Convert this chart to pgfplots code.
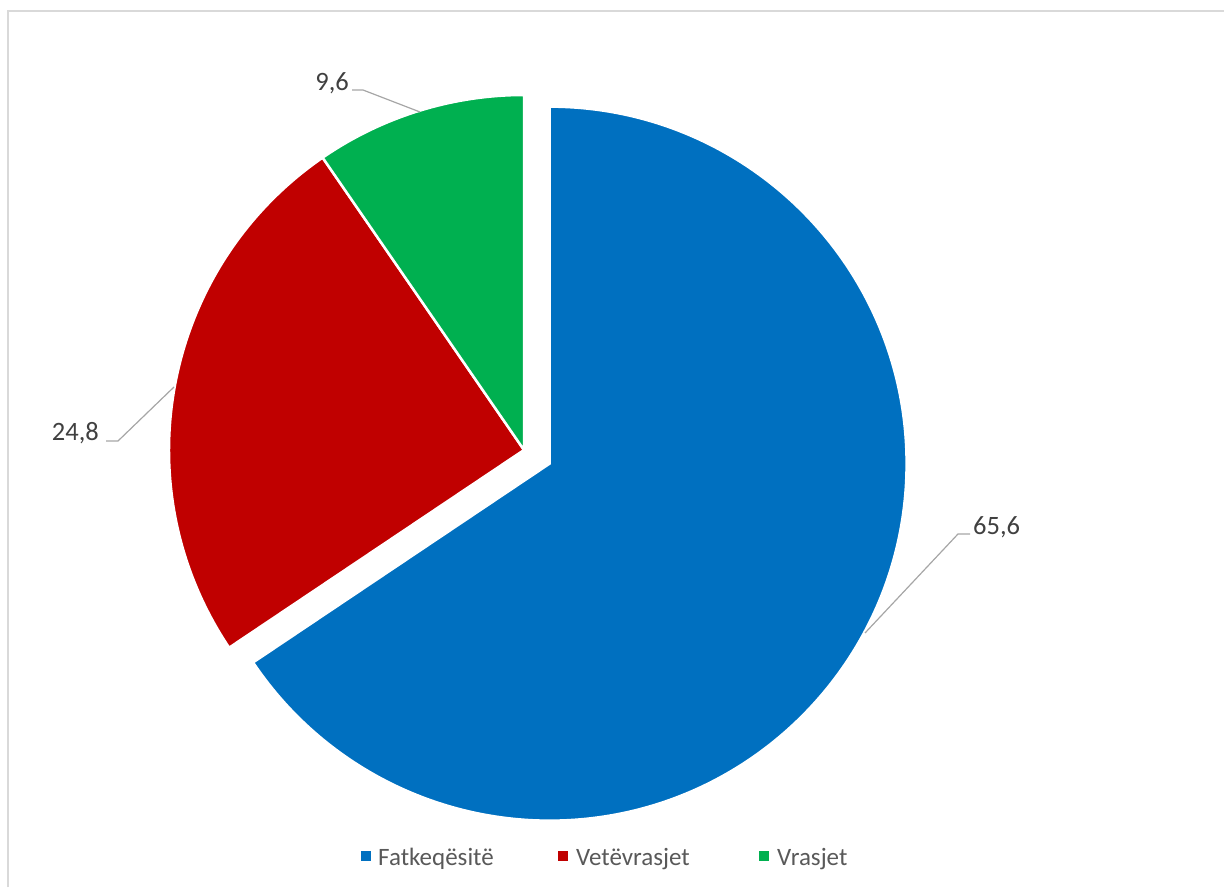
\documentclass[border=0pt]{standalone}
\usepackage{pgfplots}
\pgfplotsset{compat=1.18}
\usepackage{fontspec}
\setmainfont{Carlito}
\usetikzlibrary{calc}

\definecolor{cblue}{HTML}{0070C0}
\definecolor{cred}{HTML}{C00000}
\definecolor{cgreen}{HTML}{00B050}
\definecolor{txt}{HTML}{404040}
\definecolor{legtxt}{HTML}{595959}
\definecolor{lead}{HTML}{A6A6A6}
\definecolor{frame}{HTML}{D9D9D9}

% shares in percent
\def\va{65.6} % Fatkeqesite
\def\vb{24.8} % Vetevrasjet
\def\vc{9.6}  % Vrasjet

\begin{document}
\begin{tikzpicture}
\begin{axis}[
  scale only axis, width=1224pt, height=887pt,
  xmin=0, xmax=1224, ymin=0, ymax=887,
  hide axis, clip=false]
\coordinate (BL) at (axis cs:0,0);
\coordinate (TR) at (axis cs:1224,887);

% chart frame (only left and top edges are visible)
\draw[frame, line width=1.5pt] (axis cs:8,0) -- (axis cs:8,876) -- (axis cs:1224,876);

% slices: start at 12 o'clock, clockwise
\fill[cblue, draw=white, line width=2.5pt]
  ($(axis cs:524,437)+({90-1.8*\va}:29pt)$) -- +(90:357pt)
  arc[start angle=90, end angle={90-3.6*\va}, radius=357pt] -- cycle;
\fill[cred, draw=white, line width=2.5pt]
  (axis cs:524,437) -- +({90-3.6*\va}:355pt)
  arc[start angle={90-3.6*\va}, end angle={90-3.6*(\va+\vb)}, radius=355pt] -- cycle;
\fill[cgreen, draw=white, line width=2.5pt]
  (axis cs:524,437) -- +({90-3.6*(\va+\vb)}:355pt)
  arc[start angle={90-3.6*(\va+\vb)}, end angle=-270, radius=355pt] -- cycle;

% leader lines and data labels
\draw[lead, line width=1.2pt] (axis cs:865,254) -- (axis cs:958,353) -- (axis cs:970,353);
\draw[lead, line width=1.2pt] (axis cs:174,500) -- (axis cs:118,446) -- (axis cs:106,446);
\draw[lead, line width=1.2pt] (axis cs:420,775) -- (axis cs:363,797) -- (axis cs:352,797);
\node[anchor=west, inner sep=0pt, text=txt, font=\fontsize{26.5}{31}\selectfont] at (axis cs:973,360) {65,6};
\node[anchor=east, inner sep=0pt, text=txt, font=\fontsize{26.5}{31}\selectfont] at (axis cs:99,454) {24,8};
\node[anchor=east, inner sep=0pt, text=txt, font=\fontsize{26.5}{31}\selectfont] at (axis cs:349,804) {9,6};

% legend
\fill[cblue] (axis cs:361,26) rectangle (axis cs:371,36);
\fill[cred] (axis cs:558,26) rectangle (axis cs:568,36);
\fill[cgreen] (axis cs:759,26) rectangle (axis cs:769,36);
\node[anchor=base west, inner sep=0pt, text=legtxt, font=\fontsize{25}{29}\selectfont] at (axis cs:378,22) {Fatkeqësitë};
\node[anchor=base west, inner sep=0pt, text=legtxt, font=\fontsize{25}{29}\selectfont] at (axis cs:576,22) {Vetëvrasjet};
\node[anchor=base west, inner sep=0pt, text=legtxt, font=\fontsize{25}{29}\selectfont] at (axis cs:777,22) {Vrasjet};
\end{axis}
\pgfresetboundingbox
\path[use as bounding box] (BL) rectangle (TR);
\end{tikzpicture}
\end{document}
